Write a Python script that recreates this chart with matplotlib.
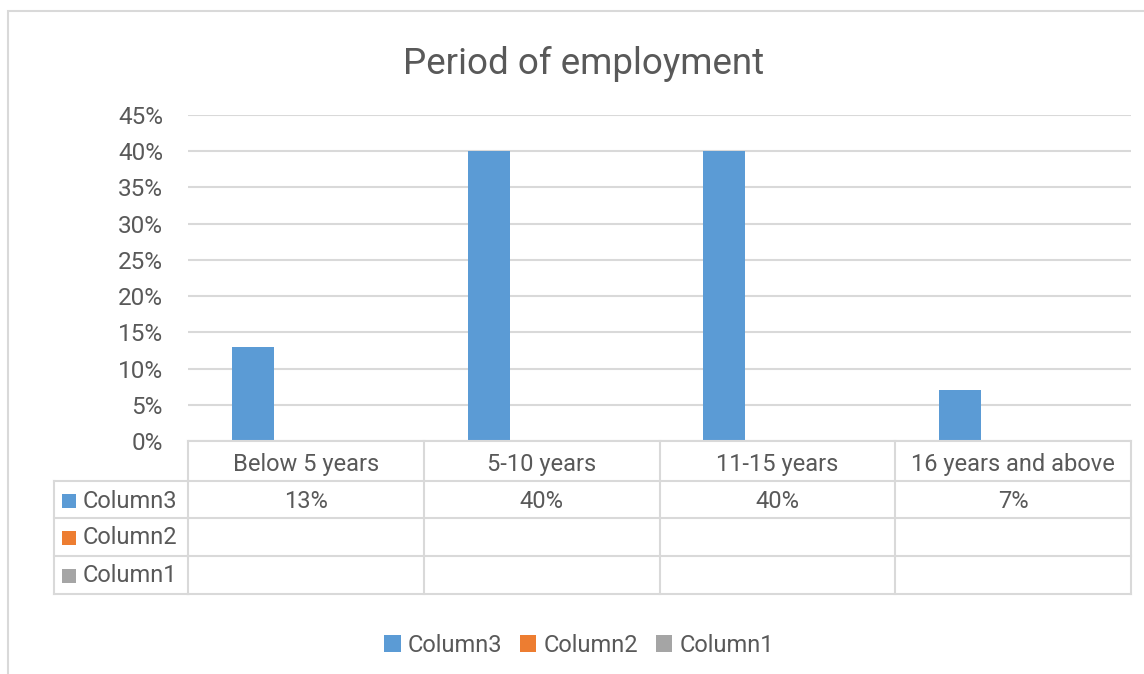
import numpy as np
import matplotlib.pyplot as plt
from matplotlib.patches import Patch, Rectangle
from matplotlib.lines import Line2D
from matplotlib import transforms

plt.rcParams['font.family'] = ['Roboto', 'DejaVu Sans']

# dados
categorias = ['Below 5 years', '5-10 years', '11-15 years', '16 years and above']
series = ['Column3', 'Column2', 'Column1']
valores = {
    'Column3': [0.13, 0.40, 0.40, 0.07],
    'Column2': [None, None, None, None],
    'Column1': [None, None, None, None],
}
cores = {'Column3': '#5b9bd5', 'Column2': '#ed7d31', 'Column1': '#a5a5a5'}

W, H = 1144, 674
texto = '#595959'
linha = '#d9d9d9'

def fx(px):
    return px / W

def fy(py):
    return 1 - py / H

fig = plt.figure(figsize=(W / 100, H / 100), dpi=100)
fig.patch.set_facecolor('white')

# moldura do grafico
fig.add_artist(Rectangle((fx(8), fy(700)), fx(1160), fy(11) - fy(700),
                         transform=fig.transFigure, fill=False,
                         edgecolor=linha, lw=1.5))

ax = fig.add_axes([fx(188), fy(441), fx(1131) - fx(188), fy(115) - fy(441)])
n = len(categorias)
x = np.arange(n)
largura = 0.178
passo = 0.225
offsets = {'Column3': -passo, 'Column2': 0.0, 'Column1': passo}
for s in series:
    v = [0 if a is None else a for a in valores[s]]
    ax.bar(x + offsets[s], v, width=largura, color=cores[s], zorder=3)

ax.set_xlim(-0.5, n - 0.5)
ax.set_ylim(0, 0.45)
ax.set_yticks(np.arange(0, 0.451, 0.05))
ax.set_yticklabels([f'{int(round(t * 100))}%' for t in np.arange(0, 0.451, 0.05)])
ax.tick_params(axis='y', length=0, pad=18, labelsize=17.5, labelcolor=texto)
ax.set_xticks([])
ax.grid(axis='y', color=linha, lw=1.5, zorder=0)
for sp in ax.spines.values():
    sp.set_visible(False)

fig.text(fx(584), fy(64), 'Period of employment', ha='center', va='center',
         fontsize=26.5, color=texto)

# tabela de dados
tr = transforms.blended_transform_factory(ax.transData, fig.transFigure)
linhas_y = [441, 481, 518, 556, 594]
for i, yy in enumerate(linhas_y):
    if i > 0:
        fig.add_artist(Line2D([fx(54), fx(188)], [fy(yy), fy(yy)],
                              transform=fig.transFigure, color=linha, lw=1.5))
    ax.add_artist(Line2D([-0.5, n - 0.5], [fy(yy), fy(yy)], transform=tr,
                         color=linha, lw=1.5, clip_on=False, zorder=4))
for k in range(n + 1):
    ax.add_artist(Line2D([k - 0.5, k - 0.5], [fy(441), fy(594)], transform=tr,
                         color=linha, lw=1.5, clip_on=False))
fig.add_artist(Line2D([fx(54), fx(54)], [fy(481), fy(594)],
                      transform=fig.transFigure, color=linha, lw=1.5))

for i, c in enumerate(categorias):
    ax.text(i, fy(464), c, transform=tr, ha='center', va='center',
            fontsize=17, color=texto)

linhas_centro = [501, 538, 576]
for s, yc in zip(series, linhas_centro):
    fig.add_artist(Rectangle((fx(62), fy(yc + 7)), fx(14), fy(yc - 7) - fy(yc + 7),
                             transform=fig.transFigure, color=cores[s], lw=0))
    fig.text(fx(83), fy(yc), s, ha='left', va='center', fontsize=17, color=texto)
    for i, v in enumerate(valores[s]):
        if v is not None:
            ax.text(i, fy(yc), f'{int(round(v * 100))}%', transform=tr,
                    ha='center', va='center', fontsize=17, color=texto)

handles = [Patch(facecolor=cores[s], edgecolor='none', label=s) for s in series]
fig.legend(handles=handles, loc='center', bbox_to_anchor=(fx(579), fy(645)),
           ncol=3, frameon=False, fontsize=17, labelcolor=texto,
           handlelength=0.7, handleheight=0.7, handletextpad=0.3,
           columnspacing=0.75)

fig.savefig('out.png', dpi=100)
